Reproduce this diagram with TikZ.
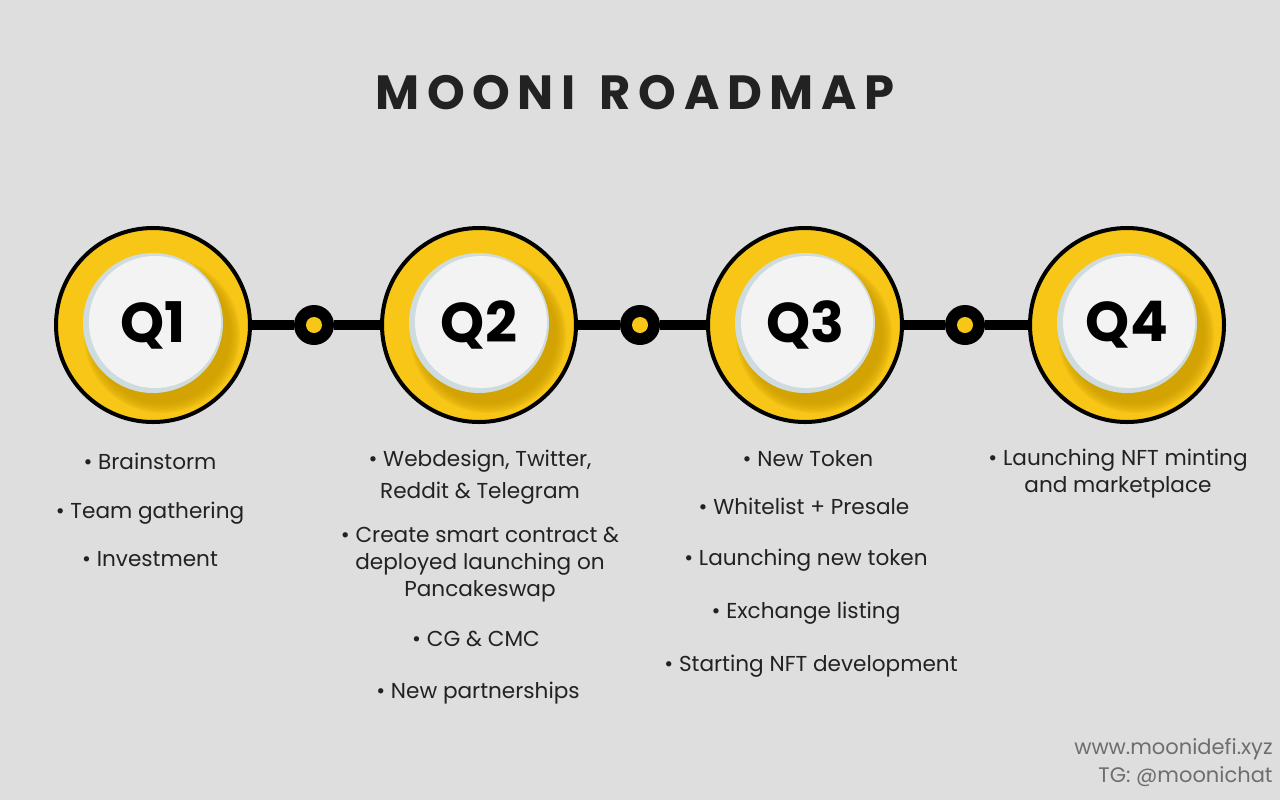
\documentclass[tikz,border=0pt]{standalone}
\usepackage{fontspec}
\setmainfont{Poppins}
\newfontfamily\titlefont[LetterSpace=16]{Poppins}
\definecolor{bg}{HTML}{DEDEDE}
\definecolor{ylw}{HTML}{F7C617}
\definecolor{dylw}{HTML}{C99A00}
\definecolor{rim}{HTML}{CFDCDF}
\definecolor{face}{HTML}{F3F3F3}
\definecolor{ink}{HTML}{222222}
\definecolor{foot}{HTML}{6E6E6E}
\tikzset{
  outer/.style={circle, draw=black, line width=2pt, fill=ylw, minimum size=97pt, inner sep=0pt},
  dotn/.style={circle, fill=black, minimum size=20pt, inner sep=0pt},
  qlab/.style={font=\bfseries\fontsize{28}{30}\selectfont, text=black},
  item/.style={font=\fontsize{10.8}{13.5}\selectfont, text=ink, align=center, anchor=base},
  link/.style={line width=5pt, black}
}
\begin{document}
\begin{tikzpicture}[x=0.5pt,y=-0.5pt]
\useasboundingbox (0,0) rectangle (1280,800);
\fill[bg] (0,0) rectangle (1280,800);
\node[font=\titlefont\bfseries\fontsize{24}{28}\selectfont, text=ink] (title) at (635,93) {MOONI\hspace{0.5em}ROADMAP};
% circles
\foreach \n/\cx in {1/153,2/479,3/805,4/1127}{
  \node[outer] (q\n) at (\cx,325) {};
  \foreach \k in {0,...,6}{
    \fill[dylw, opacity=0.17] (\cx+9,335) circle[radius={(39-\k*0.8)*1pt}];
  }
  \fill[rim] (\cx,323) circle[radius=35pt];
  \fill[face] (\cx+2,322) circle[radius=33pt];
  \node[qlab] (q\n t) at (\cx,325) {Q\n};
}
% dots
\foreach \n/\dx in {1/314,2/640,3/965}{
  \node[dotn] (d\n) at (\dx,325) {};
  \fill[ylw] (d\n) circle[radius=4pt];
}
\draw[link] (q1) -- (d1); \draw[link] (d1) -- (q2);
\draw[link] (q2) -- (d2); \draw[link] (d2) -- (q3);
\draw[link] (q3) -- (d3); \draw[link] (d3) -- (q4);
% Q1 items
\node[item] (a1) at (150,469) {• Brainstorm};
\node[item] (a2) at (150,518) {• Team gathering};
\node[item] (a3) at (150,566) {• Investment};
% Q2 items
\node[item] (b1) at (480,498) {• Webdesign, Twitter,\\[2.5pt]Reddit \& Telegram};
\node[item] (b2) at (480,596) {• Create smart contract \&\\deployed launching on\\Pancakeswap};
\node[item] (b3) at (476,646) {• CG \& CMC};
\node[item] (b4) at (478,698) {• New partnerships};
% Q3 items
\node[item] (c1) at (808,466) {• New Token};
\node[item] (c2) at (804,514) {• Whitelist + Presale};
\node[item] (c3) at (806,565) {• Launching new token};
\node[item] (c4) at (806,618) {• Exchange listing};
\node[item] (c5) at (811,671) {• Starting NFT development};
% Q4 items
\node[item] (e1) at (1118,492) {• Launching NFT minting\\and marketplace};
% footer
\node[font=\fontsize{10.5}{14}\selectfont, text=foot, align=right, anchor=north east, inner sep=0pt] (ft) at (1273,738) {www.moonidefi.xyz\\TG: @moonichat};
\end{tikzpicture}
\end{document}
